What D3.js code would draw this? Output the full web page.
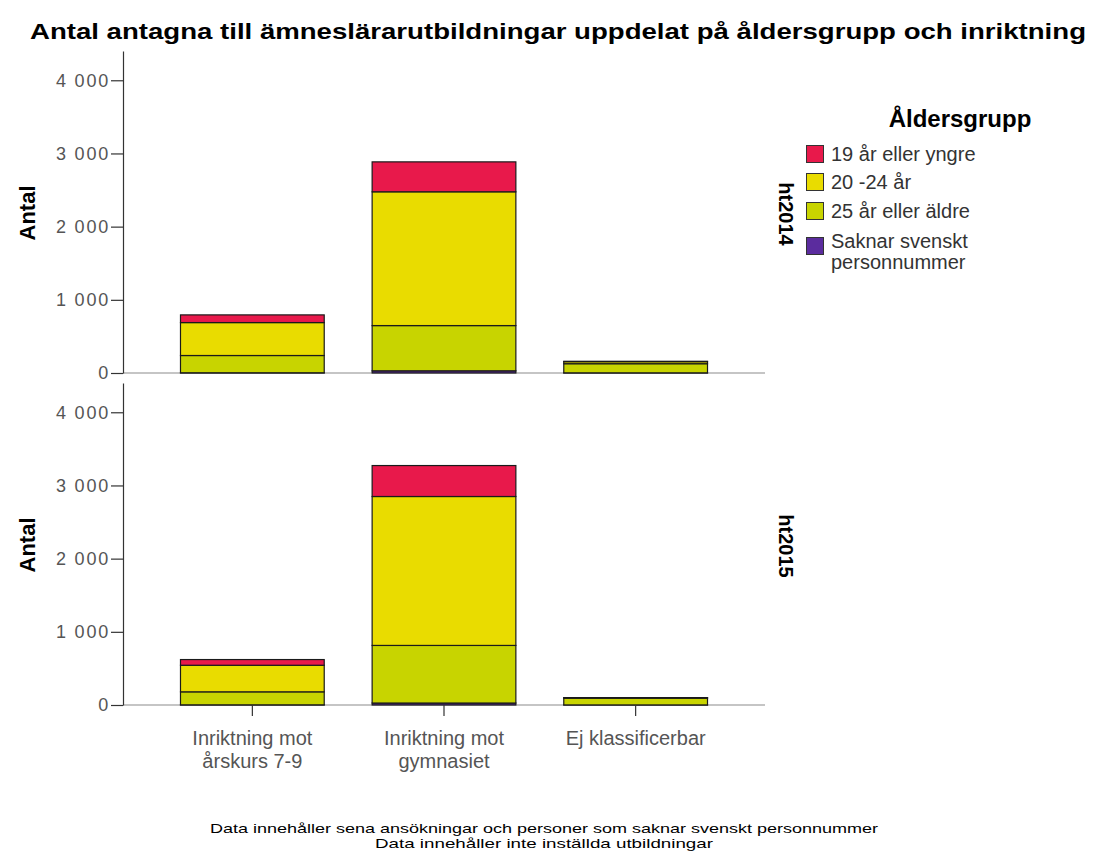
<!DOCTYPE html>
<html>
<head>
<meta charset="utf-8">
<script src="https://cdn.jsdelivr.net/npm/d3@7/dist/d3.min.js"></script>
<style>
  html, body { margin: 0; padding: 0; background: #fff; }
  svg { display: block; }
</style>
</head>
<body>
<script>
// Categories (inriktning) and age groups, stacked bottom to top
const categories = ["Inriktning mot\nårskurs 7-9", "Inriktning mot\ngymnasiet", "Ej klassificerbar"];
const ageGroups = ["Saknar svenskt personnummer", "25 år eller äldre", "20 -24 år", "19 år eller yngre"];
const legendOrder = ["19 år eller yngre", "20 -24 år", "25 år eller äldre", "Saknar svenskt\npersonnummer"];
const ageColors = ["#5b2c9e", "#c8d400", "#e9dc00", "#e8194b"];
const terms = ["ht2014", "ht2015"];

// Antal per age group, in category order
const ht2014Saknar = [3, 30, 2];
const ht2014Aldre = [236, 618, 125];
const ht2014Mellan = [450, 1828, 28];
const ht2014Yngre = [105, 409, 5];

const ht2015Saknar = [2, 27, 1];
const ht2015Aldre = [178, 787, 92];
const ht2015Mellan = [363, 2035, 6];
const ht2015Yngre = [78, 423, 2];

const yTicks = [0, 1000, 2000, 3000, 4000];
const yMax = 4400;

const W = 1097, H = 857;
const svg = d3.select("body").append("svg").attr("width", W).attr("height", H);

const fontMain = "'Liberation Sans', Arial, Helvetica, sans-serif";

// Title
svg.append("text")
  .attr("x", 558).attr("y", 39)
  .attr("text-anchor", "middle")
  .attr("font-family", fontMain).attr("font-weight", "bold").attr("font-size", 22)
  .attr("textLength", 1056).attr("lengthAdjust", "spacingAndGlyphs")
  .attr("fill", "#000")
  .text("Antal antagna till ämneslärarutbildningar uppdelat på åldersgrupp och inriktning");

const xLeft = 123, xRight = 765;
const x = d3.scaleBand().domain(categories).range([xLeft, xRight]).paddingInner(0.25).paddingOuter(0.3);

const panels = [
  { term: "ht2014", top: 51, bottom: 373, series: [ht2014Saknar, ht2014Aldre, ht2014Mellan, ht2014Yngre] },
  { term: "ht2015", top: 383, bottom: 705, series: [ht2015Saknar, ht2015Aldre, ht2015Mellan, ht2015Yngre] }
];

// Thousands separated by a space
const fmt = v => d3.format(",")(v).replace(/,/g, " ");

panels.forEach((p, pi) => {
  const y = d3.scaleLinear().domain([0, yMax]).range([p.bottom, p.top]);
  const g = svg.append("g");

  const rows = categories.map((c, i) => {
    const r = { cat: c };
    ageGroups.forEach((a, k) => { r[a] = p.series[k][i]; });
    return r;
  });
  const stacked = d3.stack().keys(ageGroups)(rows);

  // Baseline
  g.append("line")
    .attr("x1", xLeft).attr("x2", xRight)
    .attr("y1", y(0)).attr("y2", y(0))
    .attr("stroke", "#8c8c8c").attr("stroke-width", 1.2);

  // Stacked bars
  stacked.forEach((layer, k) => {
    g.selectAll(null).data(layer).enter().append("rect")
      .attr("x", d => x(d.data.cat))
      .attr("width", x.bandwidth())
      .attr("y", d => y(d[1]))
      .attr("height", d => Math.max(0, y(d[0]) - y(d[1])))
      .attr("fill", ageColors[k])
      .attr("stroke", "#1a1a1a").attr("stroke-width", 1.2);
  });

  // Y axis
  const yAxis = d3.axisLeft(y).tickValues(yTicks).tickFormat(fmt).tickSize(12).tickSizeOuter(0).tickPadding(1);
  const ay = svg.append("g").attr("transform", `translate(${xLeft},0)`).call(yAxis);
  ay.select(".domain").attr("stroke", "#333").attr("stroke-width", 1.2);
  ay.selectAll(".tick line").attr("stroke", "#333").attr("stroke-width", 1.2);
  ay.selectAll(".tick text")
    .attr("font-family", fontMain).attr("font-size", 18).attr("letter-spacing", 1.8).attr("fill", "#555");

  // Y axis title
  svg.append("text")
    .attr("transform", `translate(35,${(p.top + p.bottom) / 2 + 1}) rotate(-90)`)
    .attr("text-anchor", "middle")
    .attr("font-family", fontMain).attr("font-weight", "bold").attr("font-size", 22)
    .attr("fill", "#000")
    .text("Antal");

  // Panel label
  svg.append("text")
    .attr("transform", `translate(779,${(p.top + p.bottom) / 2 + 2}) rotate(90)`)
    .attr("text-anchor", "middle")
    .attr("font-family", fontMain).attr("font-weight", "bold").attr("font-size", 20)
    .attr("fill", "#000")
    .text(p.term);

  // X axis on the lower panel only
  if (pi === panels.length - 1) {
    const xAxis = d3.axisBottom(x).tickSize(11).tickSizeOuter(0).tickFormat("");
    const ax = svg.append("g").attr("transform", `translate(0,${p.bottom})`).call(xAxis);
    ax.select(".domain").remove();
    ax.selectAll(".tick line").attr("stroke", "#333").attr("stroke-width", 1.2);
    ax.selectAll(".tick").each(function(d) {
      const lines = d.split("\n");
      const t = d3.select(this).append("text")
        .attr("text-anchor", "middle")
        .attr("font-family", fontMain).attr("font-size", 20).attr("fill", "#555");
      lines.forEach((ln, li) => {
        t.append("tspan").attr("x", 0).attr("y", 40 + li * 23).text(ln);
      });
    });
  }
});

// Legend
svg.append("text")
  .attr("x", 960).attr("y", 127)
  .attr("text-anchor", "middle")
  .attr("font-family", fontMain).attr("font-weight", "bold").attr("font-size", 24)
  .attr("fill", "#000")
  .text("Åldersgrupp");

const legendColors = ageColors.slice().reverse();
const legendY = [145, 173, 202, 237];
legendOrder.forEach((label, i) => {
  const gy = legendY[i];
  svg.append("rect")
    .attr("x", 806.5).attr("y", gy + 0.5)
    .attr("width", 17).attr("height", 17)
    .attr("fill", legendColors[i]).attr("stroke", "#333").attr("stroke-width", 1);
  const t = svg.append("text")
    .attr("font-family", fontMain).attr("font-size", 20).attr("fill", "#333");
  const multi = label.includes("\n");
  label.split("\n").forEach((ln, li) => {
    t.append("tspan").attr("x", 831).attr("y", gy + 16 - (multi ? 5 : 0) + li * 21).text(ln);
  });
});

// Footnote, condensed to the column width
const notes = ["Data innehåller sena ansökningar och personer som saknar svenskt personnummer",
               "Data innehåller inte inställda utbildningar"];
const noteWidths = [668, 338];
notes.forEach((n, i) => {
  svg.append("text")
    .attr("x", 544).attr("y", 833 + i * 15)
    .attr("text-anchor", "middle")
    .attr("font-family", fontMain).attr("font-size", 13.5).attr("fill", "#000")
    .attr("textLength", noteWidths[i]).attr("lengthAdjust", "spacingAndGlyphs")
    .text(n);
});
</script>
</body>
</html>
